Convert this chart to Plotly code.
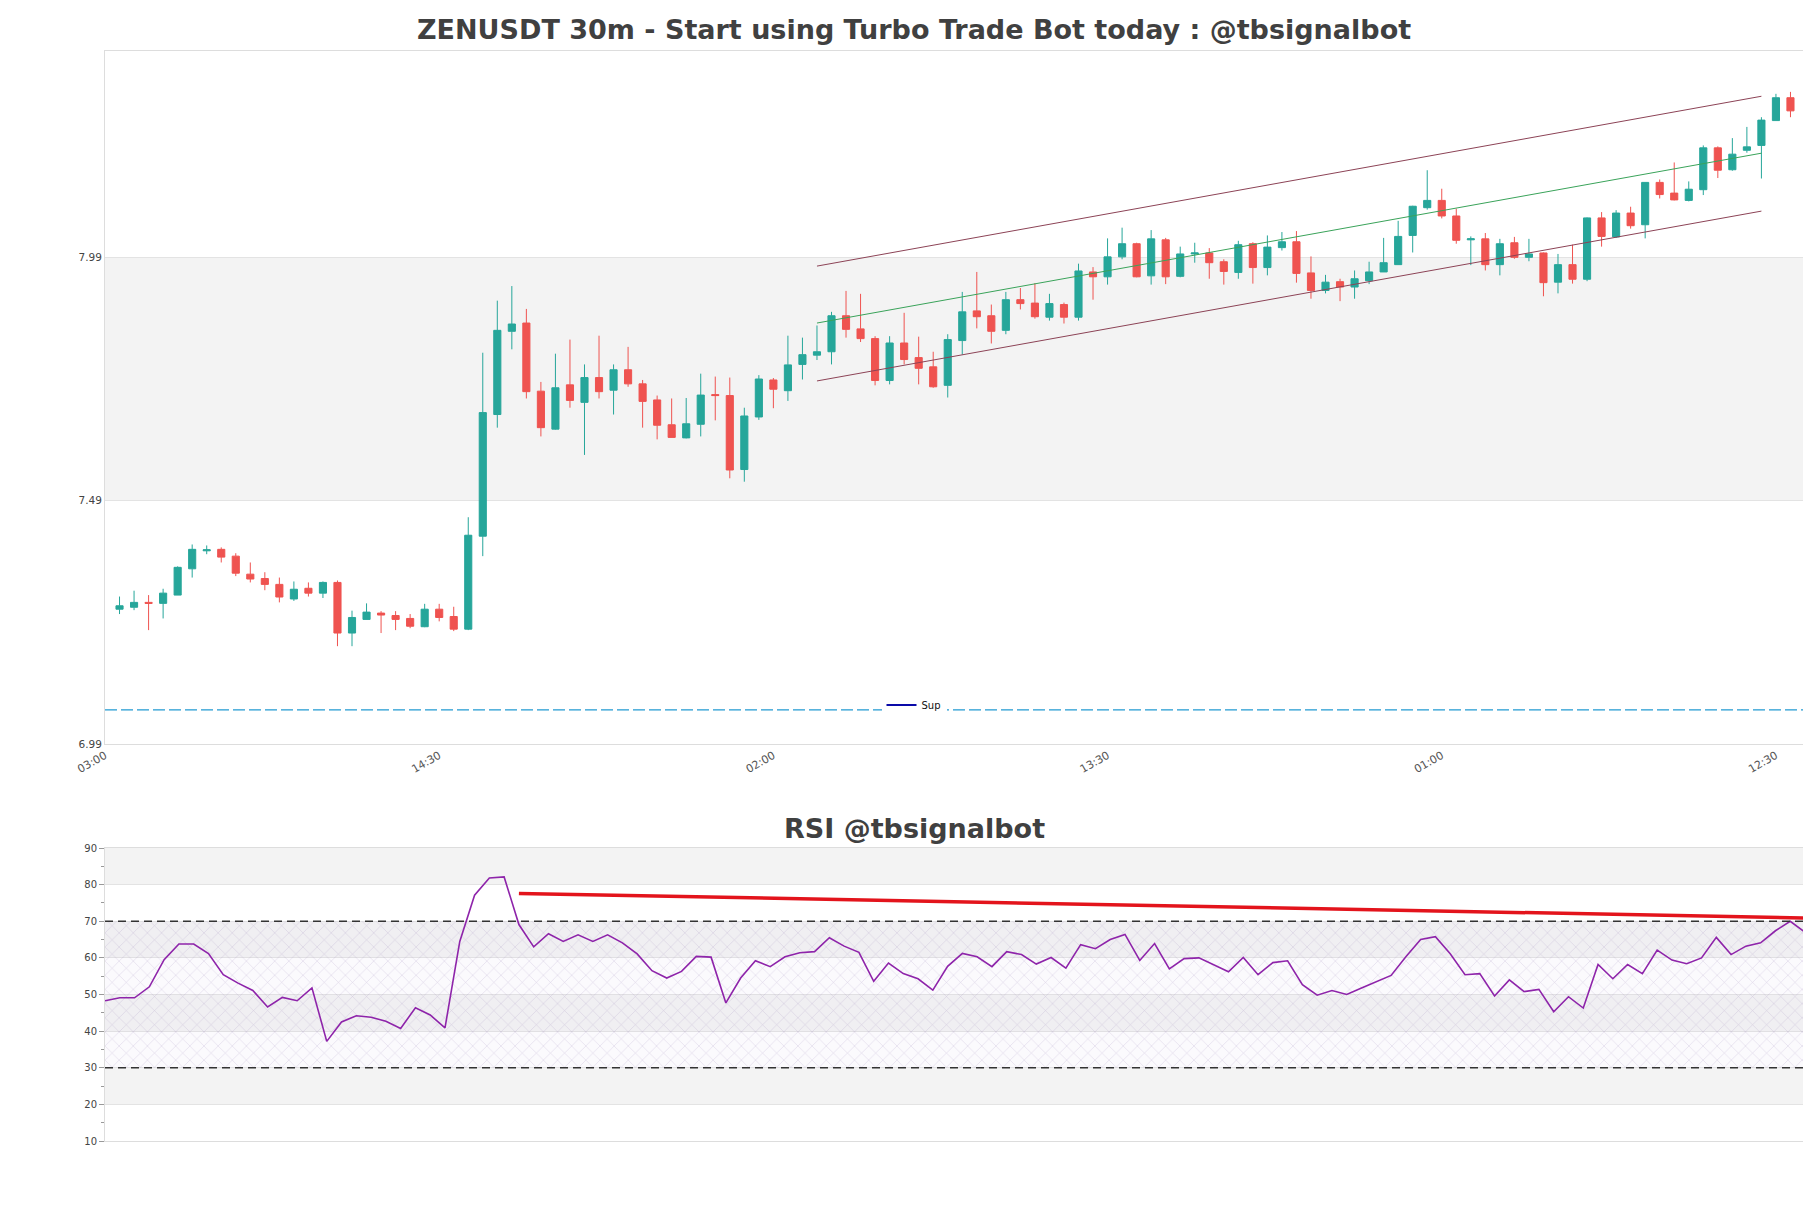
import plotly.graph_objects as go

# ZENUSDT 30m candles (index 0 = 03:30)
candle_open = [7.267, 7.271, 7.281, 7.279, 7.296, 7.350, 7.387, 7.390, 7.376, 7.339,
               7.330, 7.318, 7.288, 7.310, 7.300, 7.322, 7.218, 7.246, 7.259, 7.254,
               7.248, 7.231, 7.267, 7.252, 7.226, 7.417, 7.667, 7.838, 7.855, 7.715,
               7.637, 7.728, 7.692, 7.743, 7.717, 7.759, 7.730, 7.697, 7.646, 7.619,
               7.647, 7.708, 7.706, 7.554, 7.662, 7.738, 7.716, 7.770, 7.789, 7.796,
               7.870, 7.843, 7.823, 7.737, 7.814, 7.784, 7.765, 7.727, 7.819, 7.880,
               7.870, 7.840, 7.903, 7.896, 7.867, 7.893, 7.867, 7.960, 7.950, 7.991,
               8.018, 7.952, 8.026, 7.951, 7.997, 7.999, 7.981, 7.959, 8.018, 7.969,
               8.010, 8.022, 7.958, 7.922, 7.940, 7.929, 7.942, 7.960, 7.975, 8.035,
               8.092, 8.107, 8.075, 8.026, 8.028, 7.975, 8.020, 7.990, 7.999, 7.939,
               7.975, 7.945, 8.071, 8.032, 8.081, 8.057, 8.144, 8.122, 8.107, 8.129,
               8.215, 8.170, 8.210, 8.220, 8.271, 8.318]
candle_high = [7.293, 7.305, 7.296, 7.309, 7.355, 7.400, 7.398, 7.394, 7.382, 7.363,
               7.343, 7.332, 7.324, 7.322, 7.324, 7.326, 7.264, 7.279, 7.263, 7.263,
               7.257, 7.278, 7.278, 7.272, 7.456, 7.794, 7.901, 7.931, 7.884, 7.734,
               7.792, 7.821, 7.770, 7.829, 7.770, 7.806, 7.738, 7.706, 7.700, 7.701,
               7.751, 7.745, 7.743, 7.681, 7.748, 7.742, 7.829, 7.825, 7.850, 7.878,
               7.921, 7.915, 7.828, 7.828, 7.876, 7.827, 7.796, 7.832, 7.919, 7.960,
               7.893, 7.919, 7.927, 7.937, 7.915, 7.897, 7.977, 7.970, 8.029, 8.051,
               8.020, 8.046, 8.030, 8.012, 8.020, 8.009, 7.986, 8.024, 8.021, 8.035,
               8.042, 8.044, 7.992, 7.954, 7.946, 7.963, 7.981, 8.030, 8.065, 8.096,
               8.169, 8.131, 8.090, 8.033, 8.040, 8.028, 8.032, 8.028, 8.000, 7.997,
               8.016, 8.072, 8.083, 8.087, 8.094, 8.144, 8.150, 8.185, 8.146, 8.220,
               8.218, 8.235, 8.258, 8.278, 8.326, 8.330]
candle_low = [7.257, 7.265, 7.224, 7.248, 7.296, 7.332, 7.380, 7.363, 7.335, 7.322,
              7.306, 7.281, 7.284, 7.293, 7.290, 7.191, 7.191, 7.246, 7.218, 7.224,
              7.228, 7.230, 7.242, 7.222, 7.224, 7.376, 7.640, 7.801, 7.700, 7.622,
              7.636, 7.681, 7.584, 7.700, 7.667, 7.724, 7.640, 7.616, 7.620, 7.618,
              7.622, 7.655, 7.536, 7.529, 7.656, 7.680, 7.695, 7.739, 7.779, 7.770,
              7.825, 7.816, 7.727, 7.729, 7.770, 7.729, 7.722, 7.702, 7.790, 7.844,
              7.813, 7.832, 7.883, 7.864, 7.860, 7.854, 7.860, 7.903, 7.934, 7.986,
              7.949, 7.934, 7.935, 7.949, 7.979, 7.946, 7.934, 7.946, 7.936, 7.953,
              8.004, 7.938, 7.905, 7.916, 7.900, 7.905, 7.935, 7.960, 7.975, 8.000,
              8.088, 8.070, 8.018, 7.974, 7.963, 7.953, 7.987, 7.982, 7.910, 7.916,
              7.936, 7.941, 8.012, 8.030, 8.049, 8.029, 8.111, 8.107, 8.105, 8.118,
              8.153, 8.168, 8.205, 8.152, 8.271, 8.278]
candle_close = [7.274, 7.281, 7.279, 7.300, 7.353, 7.390, 7.389, 7.374, 7.341, 7.329,
                7.318, 7.292, 7.308, 7.300, 7.322, 7.218, 7.250, 7.261, 7.255, 7.246,
                7.232, 7.267, 7.250, 7.226, 7.419, 7.671, 7.840, 7.853, 7.714, 7.640,
                7.722, 7.696, 7.743, 7.714, 7.759, 7.730, 7.694, 7.645, 7.620, 7.648,
                7.707, 7.706, 7.553, 7.664, 7.740, 7.719, 7.769, 7.790, 7.796, 7.870,
                7.842, 7.823, 7.737, 7.814, 7.780, 7.762, 7.724, 7.821, 7.878, 7.868,
                7.838, 7.903, 7.895, 7.868, 7.895, 7.867, 7.962, 7.950, 7.991, 8.018,
                7.950, 8.028, 7.950, 7.997, 7.999, 7.979, 7.961, 8.016, 7.969, 8.011,
                8.022, 7.957, 7.922, 7.939, 7.929, 7.946, 7.960, 7.979, 8.033, 8.095,
                8.107, 8.075, 8.025, 8.028, 7.975, 8.018, 7.990, 7.997, 7.938, 7.975,
                7.945, 8.071, 8.033, 8.081, 8.055, 8.144, 8.119, 8.108, 8.130, 8.215,
                8.169, 8.202, 8.217, 8.272, 8.318, 8.291]

rsi = [48.3, 49.1, 49.1, 52.1, 59.5, 63.8, 63.8, 61.2, 55.4, 53.1,
       51.1, 46.6, 49.2, 48.3, 51.8, 37.2, 42.5, 44.2, 43.8, 42.7,
       40.7, 46.4, 44.4, 40.9, 64.5, 77.1, 81.8, 82.1, 69.1, 63.0,
       66.6, 64.5, 66.3, 64.5, 66.3, 64.1, 61.1, 56.5, 54.5, 56.3,
       60.4, 60.2, 47.7, 54.5, 59.2, 57.6, 60.3, 61.4, 61.7, 65.5,
       63.2, 61.5, 53.6, 58.6, 55.7, 54.3, 51.2, 57.7, 61.2, 60.3,
       57.6, 61.7, 60.9, 58.3, 60.1, 57.2, 63.6, 62.5, 65.0, 66.4,
       59.3, 63.9, 57.0, 59.8, 60.0, 58.2, 56.2, 60.1, 55.4, 58.7,
       59.2, 52.7, 49.8, 51.1, 50.0, 51.8, 53.4, 55.2, 60.3, 65.0,
       65.8, 61.1, 55.4, 55.7, 49.6, 54.0, 50.8, 51.4, 45.3, 49.4,
       46.3, 58.2, 54.3, 58.2, 55.7, 62.1, 59.4, 58.4, 60.0, 65.6,
       60.9, 63.2, 64.1, 67.4, 70.0, 67.0]

tick_idx = [-1, 22, 45, 68, 91, 114]
tick_labels = ['03:00', '14:30', '02:00', '13:30', '01:00', '12:30']

# trend channel
channel_x = [48, 113]
channel_upper = [7.972, 8.321]
channel_mid = [7.855, 8.204]
channel_lower = [7.736, 8.085]

sup_level = 7.06
price_ticks = [6.99, 7.49, 7.99, 8.49]

rsi_trend_x = [28, 115]
rsi_trend_y = [77.6, 70.9]
rsi_hi = 70
rsi_lo = 30

n = len(candle_close)
idx = list(range(n))

FONT = 'DejaVu Sans'
W, H = 1811, 1208
m_t, m_b, m_l, m_r = 43, 75, 97, 14
ph = H - m_t - m_b
pw = W - m_l - m_r


def py(pix):
    # pixel row -> paper y
    return (H - m_b - pix) / ph


def px(pix):
    # pixel column -> paper x
    return (pix - m_l) / pw


fig = go.Figure()

fig.add_trace(go.Candlestick(
    x=idx, open=candle_open, high=candle_high, low=candle_low, close=candle_close,
    increasing=dict(line=dict(color='#26a69a', width=1), fillcolor='#26a69a'),
    decreasing=dict(line=dict(color='#ef5350', width=1), fillcolor='#ef5350'),
    whiskerwidth=0, showlegend=False, hoverinfo='skip', xaxis='x', yaxis='y'))

for ys, col in [(channel_upper, '#8c4356'), (channel_mid, '#3aa35a'), (channel_lower, '#8c4356')]:
    fig.add_trace(go.Scatter(x=channel_x, y=ys, mode='lines', line=dict(color=col, width=1),
                             showlegend=False, xaxis='x', yaxis='y'))

fig.add_trace(go.Scatter(x=[-1, n], y=[sup_level, sup_level], mode='lines',
                         line=dict(color='#229ad2', width=1.3, dash='12px,4px'),
                         showlegend=False, xaxis='x', yaxis='y'))
fig.add_trace(go.Scatter(x=[None], y=[None], mode='lines', name='Sup',
                         line=dict(color='#0a0aa8', width=2), xaxis='x', yaxis='y'))

# RSI hatched zone
fig.add_trace(go.Scatter(x=[0, n - 1], y=[rsi_lo, rsi_lo], mode='lines', line=dict(width=0),
                         showlegend=False, hoverinfo='skip', xaxis='x2', yaxis='y2'))
fig.add_trace(go.Scatter(x=[0, n - 1], y=[rsi_hi, rsi_hi], mode='lines', line=dict(width=0),
                         fill='tonexty', fillcolor='rgba(190,160,215,0.06)',
                         fillpattern=dict(shape='x', fgcolor='rgba(150,130,180,0.7)', size=10,
                                          solidity=0.1, fillmode='overlay'),
                         showlegend=False, hoverinfo='skip', xaxis='x2', yaxis='y2'))

fig.add_trace(go.Scatter(x=idx, y=rsi, mode='lines', line=dict(color='#8e24aa', width=1.6),
                         showlegend=False, xaxis='x2', yaxis='y2'))
fig.add_trace(go.Scatter(x=rsi_trend_x, y=rsi_trend_y, mode='lines',
                         line=dict(color='#e3141c', width=3.5), showlegend=False,
                         xaxis='x2', yaxis='y2'))

# alternating background bands
for i in range(len(price_ticks) - 1):
    if i % 2 == 1:
        fig.add_shape(type='rect', xref='x domain', yref='y', x0=0, x1=1,
                      y0=price_ticks[i], y1=price_ticks[i + 1],
                      fillcolor='#f3f3f3', line_width=0, layer='below')
for lo in range(20, 90, 20):
    fig.add_shape(type='rect', xref='x2 domain', yref='y2', x0=0, x1=1, y0=lo, y1=lo + 10,
                  fillcolor='#f3f3f3', line_width=0, layer='below')

for lvl in (rsi_hi, rsi_lo):
    fig.add_shape(type='line', xref='x2 domain', yref='y2', x0=0, x1=1, y0=lvl, y1=lvl,
                  line=dict(color='#333333', width=1.3, dash='8px,5px'))

axis_common = dict(showline=True, linecolor='#dddddd', linewidth=1, mirror=True,
                   zeroline=False, automargin=False)

fig.update_layout(
    width=W, height=H,
    margin=dict(l=m_l, r=m_r, t=m_t, b=m_b, autoexpand=False),
    paper_bgcolor='white', plot_bgcolor='white',
    font=dict(family=FONT, color='#444444', size=10),
    xaxis=dict(domain=[0, 1], range=[-1, n], anchor='y', tickvals=tick_idx, ticktext=tick_labels,
               tickangle=-30, showgrid=False, rangeslider=dict(visible=False),
               tickfont=dict(size=11, color='#555555'), **axis_common),
    yaxis=dict(domain=[py(736), 1], range=[6.99, 8.414], anchor='x', tickvals=price_ticks[:3],
               ticktext=['6.99', '7.49', '7.99'], showgrid=True, gridcolor='#e3e3e3',
               tickfont=dict(size=10.5, color='#444444'), **axis_common),
    xaxis2=dict(domain=[0, 1], range=[0, n - 1], anchor='y2', showticklabels=False,
                showgrid=False, **axis_common),
    yaxis2=dict(domain=[0, py(840)], range=[10, 90], anchor='x2', dtick=10, showgrid=True,
                gridcolor='#e3e3e3', ticks='outside', ticklen=5, tickcolor='#999999',
                minor=dict(dtick=5, ticks='outside', ticklen=3, tickcolor='#999999', showgrid=False),
                tickfont=dict(size=10, color='#444444'), **axis_common),
    legend=dict(x=px(906), y=py(697), xanchor='center', yanchor='middle', bgcolor='white',
                font=dict(size=10, color='#111111'), itemwidth=30),
    annotations=[
        dict(text='<b>ZENUSDT 30m - Start using Turbo Trade Bot today : @tbsignalbot</b>',
             x=px(906), y=py(22), xref='paper', yref='paper', xanchor='center', yanchor='middle',
             showarrow=False, font=dict(size=27, color='#404040', family=FONT)),
        dict(text='<b>RSI @tbsignalbot</b>', x=px(906), y=py(820), xref='paper', yref='paper',
             xanchor='center', yanchor='middle',
             showarrow=False, font=dict(size=27, color='#404040', family=FONT)),
    ],
)

fig.write_html('out.html')
